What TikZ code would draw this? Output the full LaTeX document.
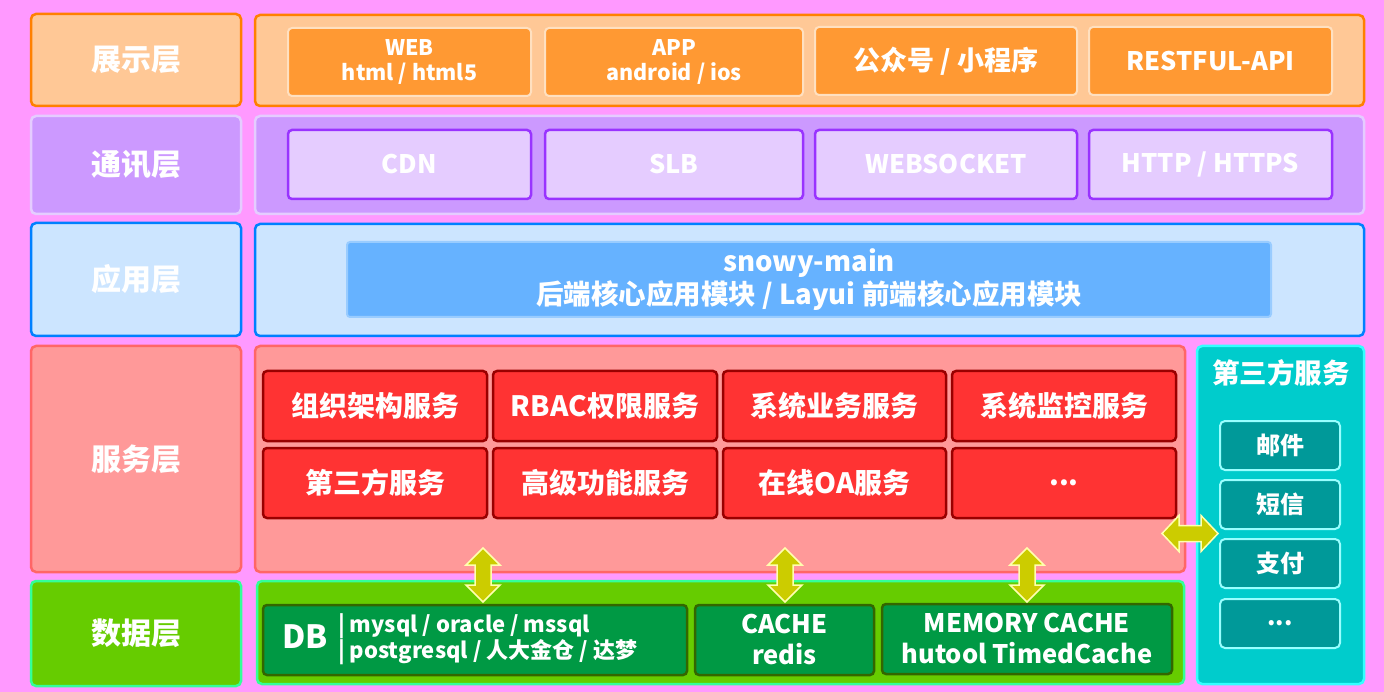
\documentclass[tikz,border=0pt]{standalone}
\usepackage{fontspec}
\setmainfont{Noto Sans CJK SC}
\usetikzlibrary{positioning}
\definecolor{bgc}{HTML}{FF99FF}
\definecolor{peach}{HTML}{FFC896}
\definecolor{orgb}{HTML}{FF8000}
\definecolor{orgi}{HTML}{FF9933}
\definecolor{orgl}{HTML}{FFE0C0}
\definecolor{lav}{HTML}{CC99FF}
\definecolor{lavl}{HTML}{E5CCFF}
\definecolor{purb}{HTML}{9933FF}
\definecolor{skyl}{HTML}{CCE5FF}
\definecolor{blub}{HTML}{0080FF}
\definecolor{blui}{HTML}{66B2FF}
\definecolor{blul}{HTML}{99CCFF}
\definecolor{pinkr}{HTML}{FF9999}
\definecolor{redb}{HTML}{FF6666}
\definecolor{redi}{HTML}{FF3333}
\definecolor{redd}{HTML}{990000}
\definecolor{grn}{HTML}{66CC00}
\definecolor{grnb}{HTML}{33FF99}
\definecolor{grni}{HTML}{009944}
\definecolor{grnd}{HTML}{336600}
\definecolor{cyn}{HTML}{00CCCC}
\definecolor{cynb}{HTML}{33FFFF}
\definecolor{cyni}{HTML}{009999}
\definecolor{cynl}{HTML}{99FFFF}
\definecolor{arrf}{HTML}{CCCC00}
\definecolor{arrl}{HTML}{FFFFB0}
\tikzset{
  box/.style={rectangle, rounded corners=5pt, inner sep=0pt, outer sep=0pt, text=white, font=\bfseries, align=center},
  lbl/.style={box, font=\bfseries\fontsize{30}{33}\selectfont},
  showout/.style={box, fill=peach, draw=orgb, line width=2.5pt},
  showin/.style={box, fill=orgi, draw=orgl, line width=2pt, rounded corners=4pt},
  comout/.style={box, fill=lav, draw=lavl, line width=2.5pt},
  comin/.style={box, fill=lavl, draw=purb, line width=2.5pt, rounded corners=4pt, font=\bfseries\fontsize{25.5}{28}\selectfont},
  appout/.style={box, fill=skyl, draw=blub, line width=2.5pt},
  appin/.style={box, fill=blui, draw=blul, line width=2pt, rounded corners=3pt, font=\bfseries\fontsize{27.5}{33}\selectfont},
  svcout/.style={box, fill=pinkr, draw=redb, line width=2.5pt},
  svcin/.style={box, fill=redi, draw=redd, line width=2.5pt, rounded corners=4pt, font=\bfseries\fontsize{28}{30}\selectfont},
  datout/.style={box, fill=grn, draw=grnb, line width=2.5pt},
  datin/.style={box, fill=grni, draw=grnd, line width=2.5pt, rounded corners=4pt, font=\bfseries\fontsize{25.5}{31}\selectfont},
  thdout/.style={box, fill=cyn, draw=cynb, line width=2.5pt},
  thdin/.style={box, fill=cyni, draw=cynl, line width=2pt, rounded corners=5pt, font=\bfseries\fontsize{24}{26}\selectfont},
  arrsty/.style={fill=arrf, draw=arrl, line width=1.5pt, line join=miter},
  varr/.pic={\path[arrsty] (0,-27) -- (17,-10) -- (8,-10) -- (8,10) -- (17,10) -- (0,27) -- (-17,10) -- (-8,10) -- (-8,-10) -- (-17,-10) -- cycle;},
  harr/.pic={\path[arrsty] (-28,0) -- (-11,-18) -- (-11,-8) -- (11,-8) -- (11,-18) -- (28,0) -- (11,18) -- (11,8) -- (-11,8) -- (-11,18) -- cycle;}
}
\begin{document}
\begin{tikzpicture}[x=1pt,y=-1pt]
\path[fill=bgc] (0,0) rectangle (1384,692);
\useasboundingbox (0,0) rectangle (1384,692);
% left labels
\node[lbl, fill=peach, draw=orgb, line width=2.5pt, minimum width=210pt, minimum height=92pt] (l1) at (136,60) {展示层};
\node[lbl, fill=lav, draw=lavl, line width=2.5pt, minimum width=210pt, minimum height=98pt] (l2) at (136,165) {通讯层};
\node[lbl, fill=skyl, draw=blub, line width=2.5pt, minimum width=210pt, minimum height=113pt] (l3) at (136,279.5) {应用层};
\node[lbl, fill=pinkr, draw=redb, line width=2.5pt, minimum width=210pt, minimum height=226pt] (l4) at (136,459) {服务层};
\node[lbl, fill=grn, draw=grnb, line width=2.5pt, minimum width=210pt, minimum height=105pt] (l5) at (136,633.5) {数据层};
% outer right boxes
\node[showout, minimum width=1109pt, minimum height=91pt] (r1) at (809.5,60.5) {};
\node[comout, minimum width=1109pt, minimum height=98pt] (r2) at (809.5,165) {};
\node[appout, minimum width=1109pt, minimum height=112pt] (r3) at (809.5,280) {};
\node[svcout, minimum width=930pt, minimum height=226pt] (sv) at (720,459) {};
\node[datout, minimum width=927pt, minimum height=103pt] (da) at (720.5,632.5) {};
\node[thdout, minimum width=167pt, minimum height=338pt] (th) at (1280.5,515) {};
% presentation
\node[showin, minimum width=243pt, minimum height=68pt, font=\bfseries\fontsize{21.5}{25.5}\selectfont] (p1) at (409.5,62) {WEB\\html / html5};
\node[showin, minimum width=258pt, minimum height=68pt, font=\bfseries\fontsize{21.5}{25.5}\selectfont] (p2) at (674,62) {APP\\android / ios};
\node[showin, minimum width=262pt, minimum height=68pt, font=\bfseries\fontsize{27}{30}\selectfont] (p3) at (946,61) {公众号 / 小程序};
\node[showin, minimum width=243pt, minimum height=68pt, font=\bfseries\fontsize{25.5}{28}\selectfont] (p4) at (1210.5,61) {RESTFUL-API};
% communication
\node[comin, minimum width=243pt, minimum height=69pt] (c1) at (409.5,164.5) {CDN};
\node[comin, minimum width=258pt, minimum height=69pt] (c2) at (674,164.5) {SLB};
\node[comin, minimum width=262pt, minimum height=69pt] (c3) at (946,164.5) {WEBSOCKET};
\node[comin, minimum width=243pt, minimum height=69pt] (c4) at (1210.5,164.5) {HTTP / HTTPS};
% application
\node[appin, minimum width=924pt, minimum height=75pt] (a1) at (809,279.5) {snowy-main\\后端核心应用模块 / Layui 前端核心应用模块};
% services
\node[svcin, minimum width=224pt, minimum height=70pt] (s1) at (375,406) {组织架构服务};
\node[svcin, minimum width=224pt, minimum height=70pt] (s2) at (605,406) {RBAC权限服务};
\node[svcin, minimum width=223pt, minimum height=70pt] (s3) at (834.5,406) {系统业务服务};
\node[svcin, minimum width=224pt, minimum height=70pt] (s4) at (1064,406) {系统监控服务};
\node[svcin, minimum width=224pt, minimum height=70pt] (s5) at (375,483) {第三方服务};
\node[svcin, minimum width=224pt, minimum height=70pt] (s6) at (605,483) {高级功能服务};
\node[svcin, minimum width=223pt, minimum height=70pt] (s7) at (834.5,483) {在线OA服务};
\node[svcin, minimum width=224pt, minimum height=70pt] (s8) at (1064,483) {...};
% data
\node[datin, minimum width=424pt, minimum height=70pt] (d1) at (475,640) {};
\node[box, font=\bfseries\fontsize{32}{34}\selectfont, anchor=center] (dbt) at (305,637) {DB};
\node[box, font=\bfseries\fontsize{22}{25}\selectfont, align=left, anchor=west] (dbl) at (338,639) {|\hspace{5pt}mysql / oracle / mssql\\|\hspace{5pt}postgresql / 人大金仓 / 达梦};
\node[datin, minimum width=179pt, minimum height=70pt] (d2) at (784.5,640) {CACHE\\redis};
\node[datin, minimum width=290pt, minimum height=70pt] (d3) at (1027,639) {MEMORY CACHE\\hutool TimedCache};
% third party
\node[box, font=\bfseries\fontsize{27.5}{30}\selectfont] (tht) at (1281,373) {第三方服务};
\node[thdin, minimum width=120pt, minimum height=49pt] (t1) at (1280,445.5) {邮件};
\node[thdin, minimum width=120pt, minimum height=49pt] (t2) at (1280,504.5) {短信};
\node[thdin, minimum width=120pt, minimum height=49pt] (t3) at (1280,563.5) {支付};
\node[thdin, minimum width=120pt, minimum height=49pt] (t4) at (1280,623.5) {...};
% arrows
\pic at (483,575) {varr};
\pic at (785,575) {varr};
\pic at (1027,575) {varr};
\pic at (1190,533.5) {harr};
\end{tikzpicture}
\end{document}
